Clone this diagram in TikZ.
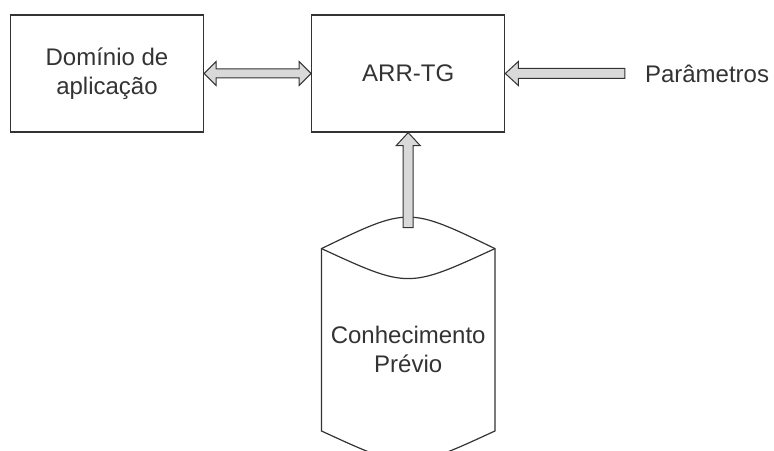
\documentclass[tikz,border=0pt]{standalone}
\usepackage{fontspec}
\setmainfont{Liberation Sans}
\usepackage{tikz}
\usetikzlibrary{positioning}
\usetikzlibrary{calc}
\definecolor{ArrowGray}{HTML}{D9D9D9}
\definecolor{LineGray}{HTML}{333333}

\begin{document}
\begin{tikzpicture}[
        x=1pt, y=1pt,
        every node/.style={align=center, font=\fontsize{24}{29}\selectfont, text=LineGray},
        box/.style={draw=LineGray, line width=1.2pt, minimum width=193pt, minimum height=117pt},
        fatarrow/.style={draw=LineGray, fill=ArrowGray, line width=1pt, line join=miter,
            to path={($(\tikztostart)!5pt!90:(\tikztotarget)$)
                -- ($(\tikztotarget)!13pt!(\tikztostart)!5pt!90:(\tikztotarget)$)
                -- ($(\tikztotarget)!13pt!(\tikztostart)!12pt!90:(\tikztotarget)$)
                -- (\tikztotarget)
                -- ($(\tikztotarget)!13pt!(\tikztostart)!12pt!-90:(\tikztotarget)$)
                -- ($(\tikztotarget)!13pt!(\tikztostart)!5pt!-90:(\tikztotarget)$)
                -- ($(\tikztostart)!5pt!-90:(\tikztotarget)$) -- cycle}},
        dblarrow/.style={draw=LineGray, fill=ArrowGray, line width=1pt, line join=miter,
            to path={(\tikztostart)
                -- ($(\tikztostart)!12pt!(\tikztotarget)!12pt!90:(\tikztotarget)$)
                -- ($(\tikztostart)!12pt!(\tikztotarget)!4.5pt!90:(\tikztotarget)$)
                -- ($(\tikztotarget)!12pt!(\tikztostart)!4.5pt!90:(\tikztotarget)$)
                -- ($(\tikztotarget)!12pt!(\tikztostart)!12pt!90:(\tikztotarget)$)
                -- (\tikztotarget)
                -- ($(\tikztotarget)!12pt!(\tikztostart)!12pt!-90:(\tikztotarget)$)
                -- ($(\tikztotarget)!12pt!(\tikztostart)!4.5pt!-90:(\tikztotarget)$)
                -- ($(\tikztostart)!12pt!(\tikztotarget)!4.5pt!-90:(\tikztotarget)$)
                -- ($(\tikztostart)!12pt!(\tikztotarget)!12pt!-90:(\tikztotarget)$) -- cycle}}
    ]
        \useasboundingbox (0,0) rectangle (774,450);
        \node[box] (dom) at (107,376.5) {Domínio de\\aplicação};
        \node[box, right=107pt of dom] (arr) {ARR-TG};
        \node[right=119.5pt of arr, inner xsep=20pt] (par) {Parâmetros};
        \node[minimum width=173pt, minimum height=223pt, inner sep=0pt, below=95pt of arr] (kb) {};
        \node[yshift=-10pt] (kbtext) at (kb.center) {Conhecimento\\Prévio};

        % database drum
        \draw[draw=LineGray, line width=1.2pt]
            ($(kb.north west)+(0,-21)$) .. controls ($(kb.north)+(0,21)$) .. ($(kb.north east)+(0,-21)$)
            -- ($(kb.south east)+(0,20)$) .. controls ($(kb.south)+(0,-20)$) .. ($(kb.south west)+(0,20)$)
            -- cycle;
        \draw[draw=LineGray, line width=1.2pt]
            ($(kb.north west)+(0,-21)$) .. controls ($(kb.north)+(0,-61)$) .. ($(kb.north east)+(0,-21)$);

        \draw[dblarrow] (dom.east) to (arr.west);
        \draw[fatarrow] (par.west) to (arr.east);
        \draw[fatarrow] (kb.north) to (arr.south);
    \end{tikzpicture}
\end{document}
